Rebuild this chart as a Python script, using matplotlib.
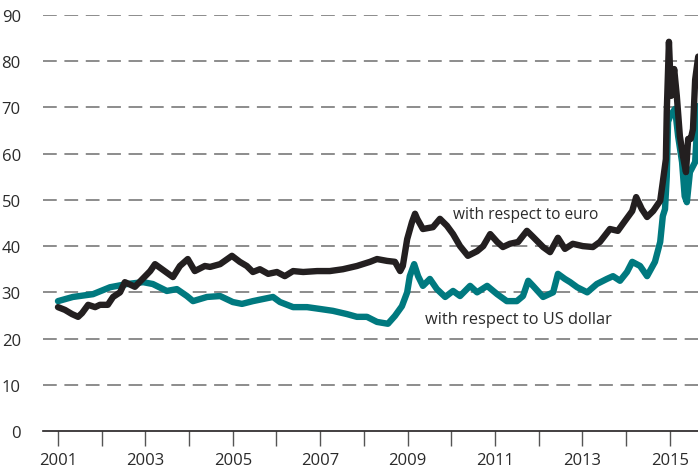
import matplotlib.pyplot as plt
import numpy as np

plt.rcParams['font.family'] = ['Open Sans', 'DejaVu Sans']

# values (x in years)
euro_x = [2001.00, 2001.16, 2001.32, 2001.46, 2001.55, 2001.69, 2001.85, 2001.96, 2002.14, 2002.26,
          2002.42, 2002.53, 2002.76, 2003.11, 2003.22, 2003.63, 2003.79, 2003.97, 2004.13, 2004.36,
          2004.48, 2004.71, 2004.98, 2005.16, 2005.32, 2005.46, 2005.62, 2005.81, 2006.01, 2006.19,
          2006.38, 2006.61, 2006.93, 2007.22, 2007.52, 2007.84, 2008.14, 2008.30, 2008.53, 2008.71,
          2008.83, 2008.89, 2008.99, 2009.10, 2009.17, 2009.22, 2009.35, 2009.58, 2009.74, 2009.90,
          2010.04, 2010.20, 2010.38, 2010.59, 2010.73, 2010.89, 2011.05, 2011.18, 2011.34, 2011.53,
          2011.73, 2011.87, 2012.10, 2012.26, 2012.44, 2012.60, 2012.78, 2013.01, 2013.24, 2013.40,
          2013.63, 2013.81, 2013.97, 2014.14, 2014.23, 2014.36, 2014.48, 2014.62, 2014.78, 2014.84,
          2014.91, 2014.93, 2014.98, 2015.03, 2015.10, 2015.16, 2015.23, 2015.30, 2015.37, 2015.42,
          2015.48, 2015.53, 2015.58, 2015.65]
euro_y = [26.8, 26.2, 25.3, 24.7, 25.5, 27.3, 26.8, 27.3, 27.3, 29.0,
          30.0, 32.2, 31.2, 34.6, 36.1, 33.3, 35.7, 37.2, 34.6, 35.7,
          35.5, 36.1, 37.9, 36.6, 35.7, 34.4, 35.0, 34.0, 34.4, 33.5,
          34.6, 34.4, 34.6, 34.6, 35.0, 35.7, 36.6, 37.2, 36.8, 36.6,
          34.6, 35.7, 41.5, 45.2, 47.0, 45.9, 43.7, 44.1, 45.9, 44.4,
          42.6, 40.0, 37.9, 38.9, 40.0, 42.6, 40.9, 39.8, 40.5, 40.9,
          43.3, 42.0, 39.8, 38.7, 41.8, 39.4, 40.5, 40.0, 39.8, 40.9,
          43.7, 43.3, 45.4, 47.6, 50.6, 48.0, 46.3, 47.6, 49.8, 53.9,
          58.8, 69.0, 84.2, 72.5, 78.3, 72.5, 63.8, 59.5, 56.0, 63.2,
          63.2, 65.3, 76.0, 81.0]

usd_x = [2001.00, 2001.34, 2001.80, 2002.19, 2002.58, 2002.95, 2003.17, 2003.49, 2003.72, 2003.95,
         2004.09, 2004.41, 2004.71, 2005.00, 2005.21, 2005.46, 2005.92, 2006.08, 2006.38, 2006.70,
         2007.00, 2007.29, 2007.61, 2007.84, 2008.07, 2008.30, 2008.55, 2008.71, 2008.87, 2008.99,
         2009.05, 2009.15, 2009.24, 2009.35, 2009.51, 2009.67, 2009.86, 2010.04, 2010.20, 2010.43,
         2010.59, 2010.82, 2011.05, 2011.27, 2011.50, 2011.64, 2011.76, 2011.87, 2012.10, 2012.33,
         2012.44, 2012.60, 2012.72, 2012.88, 2013.11, 2013.33, 2013.56, 2013.70, 2013.86, 2014.02,
         2014.14, 2014.32, 2014.48, 2014.66, 2014.78, 2014.84, 2014.89, 2014.93, 2014.96, 2015.01,
         2015.12, 2015.19, 2015.28, 2015.34, 2015.39, 2015.46, 2015.58, 2015.65]
usd_y = [28.1, 29.0, 29.6, 31.1, 31.8, 32.2, 31.8, 30.3, 30.7, 29.2,
         28.1, 29.0, 29.2, 27.9, 27.5, 28.1, 29.0, 27.9, 26.8, 26.8,
         26.4, 26.0, 25.3, 24.7, 24.7, 23.6, 23.2, 24.9, 27.0, 30.0,
         33.5, 36.1, 33.5, 31.4, 32.9, 30.7, 29.0, 30.3, 29.2, 31.4,
         30.0, 31.4, 29.6, 28.1, 28.1, 29.2, 32.5, 31.4, 29.0, 30.0,
         34.0, 32.9, 32.2, 31.1, 30.0, 31.8, 32.9, 33.5, 32.5, 34.4,
         36.6, 35.7, 33.5, 36.6, 40.9, 46.5, 48.0, 55.0, 66.9, 68.2,
         69.7, 63.8, 58.2, 50.8, 49.5, 56.0, 58.2, 70.3]

year_ticks = list(range(2001, 2016))
year_labels = [str(y) if y % 2 == 1 else '' for y in year_ticks]

black = '#231f20'
teal = '#00797f'

fig = plt.figure(figsize=(6.98, 4.77), dpi=100)
ax = fig.add_axes([0.0616, 0.0943, 0.9384, 0.8722])

for v in range(10, 100, 10):
    ax.axhline(v, color='#6d6d6d', lw=1.1, dashes=(9, 5), zorder=1)

ax.plot(usd_x, usd_y, color=teal, lw=4.6, solid_joinstyle='round',
        solid_capstyle='round', zorder=3)
ax.plot(euro_x, euro_y, color=black, lw=4.6, solid_joinstyle='round',
        solid_capstyle='round', zorder=4)

ax.text(2011.71, 47.0, 'with respect to euro', fontsize=11.2, color='#2a2a2a',
        ha='center', va='center')
ax.text(2011.53, 24.2, 'with respect to US dollar', fontsize=11.8, color='#2a2a2a',
        ha='center', va='center')

ax.set_xlim(2000.657, 2015.645)
ax.set_ylim(0, 90)
ax.set_yticks(range(0, 100, 10))
ax.set_xticks(year_ticks)
ax.set_xticklabels(year_labels)

for s in ['top', 'right', 'left']:
    ax.spines[s].set_visible(False)
ax.spines['bottom'].set_color(black)
ax.spines['bottom'].set_linewidth(1.2)

ax.tick_params(axis='x', direction='out', length=11, width=1, color='#555555',
               labelsize=12, labelcolor='#2a2a2a', pad=4)
ax.tick_params(axis='y', length=0, labelsize=12, labelcolor='#2a2a2a', pad=16)

fig.savefig('out.png', dpi=100)
